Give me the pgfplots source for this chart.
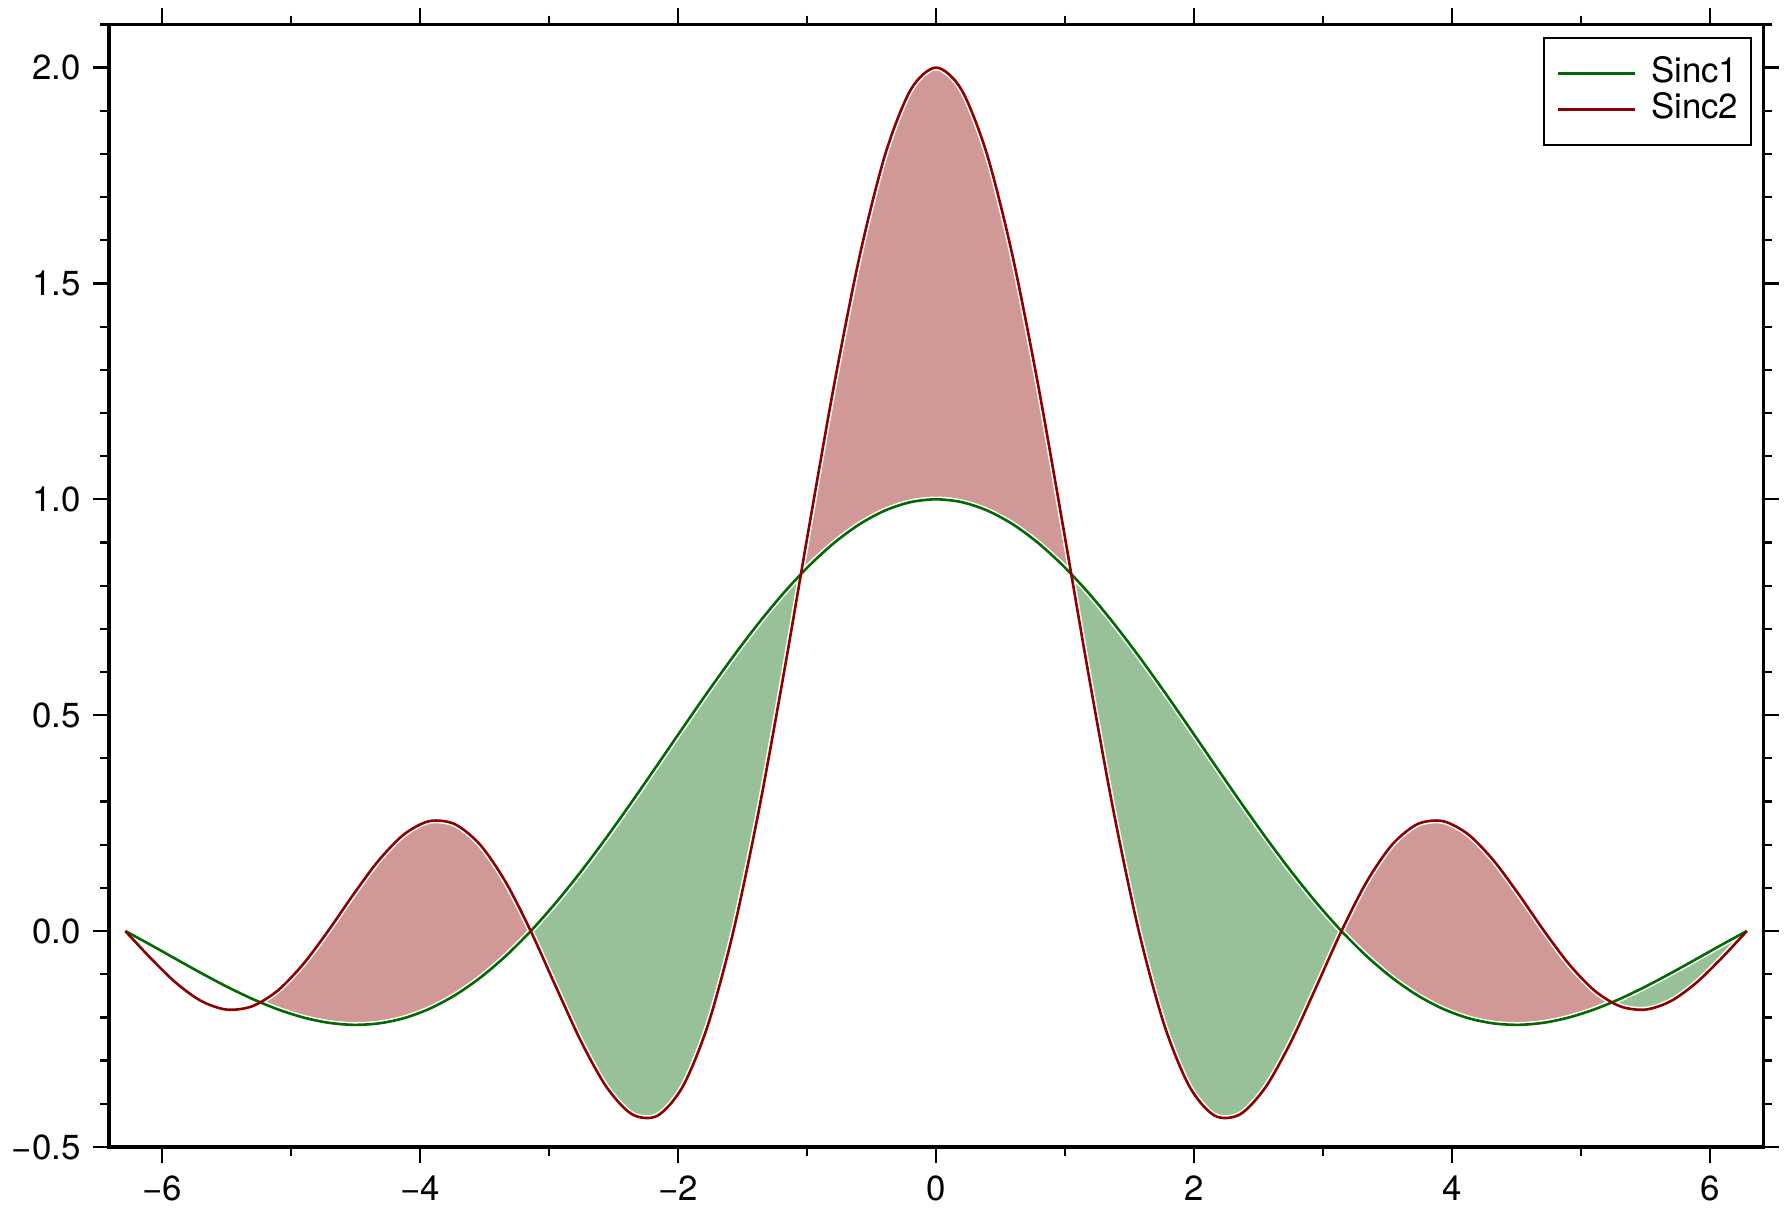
\documentclass[border=0pt]{standalone}
\usepackage{fontspec}
\setmainfont{TeX Gyre Heros}
\usepackage{pgfplots}
\pgfplotsset{compat=1.18}
\usepackage{pgfplotstable}
\usepgfplotslibrary{fillbetween}
\definecolor{lineG}{RGB}{0,105,0}
\definecolor{lineR}{RGB}{140,0,0}
\definecolor{fillG}{RGB}{153,193,153}
\definecolor{fillR}{RGB}{209,152,152}

\pgfplotstableread{
x s1 s2
-6.28319 0 0
-6.08684 -0.03205 -0.06287
-5.89049 -0.06497 -0.12004
-5.69414 -0.09757 -0.16225
-5.49779 -0.12862 -0.18189
-5.30144 -0.15684 -0.17427
-5.10509 -0.18097 -0.13851
-4.90874 -0.19980 -0.07796
-4.71239 -0.21221 0
-4.51604 -0.21718 0.08474
-4.31969 -0.21388 0.16370
-4.12334 -0.20165 0.22406
-3.92699 -0.18006 0.25465
-3.73064 -0.14892 0.24765
-3.53429 -0.10828 0.20007
-3.33794 -0.05845 0.11465
-3.14159 0 0
-2.94524 0.06624 -0.12993
-2.74889 0.13921 -0.25723
-2.55254 0.21765 -0.36194
-2.35619 0.30011 -0.42441
-2.15984 0.38497 -0.42775
-1.96350 0.47053 -0.36013
-1.76715 0.55501 -0.21655
-1.57080 0.63662 0
-1.37445 0.71359 0.27842
-1.17810 0.78421 0.60021
-0.98175 0.84693 0.94106
-0.78540 0.90032 1.27324
-0.58905 0.94317 1.56842
-0.39270 0.97450 1.80064
-0.19635 0.99359 1.94897
0 1 2
0.19635 0.99359 1.94897
0.39270 0.97450 1.80064
0.58905 0.94317 1.56842
0.78540 0.90032 1.27324
0.98175 0.84693 0.94106
1.17810 0.78421 0.60021
1.37445 0.71359 0.27842
1.57080 0.63662 0
1.76715 0.55501 -0.21655
1.96350 0.47053 -0.36013
2.15984 0.38497 -0.42775
2.35619 0.30011 -0.42441
2.55254 0.21765 -0.36194
2.74889 0.13921 -0.25723
2.94524 0.06624 -0.12993
3.14159 0 0
3.33794 -0.05845 0.11465
3.53429 -0.10828 0.20007
3.73064 -0.14892 0.24765
3.92699 -0.18006 0.25465
4.12334 -0.20165 0.22406
4.31969 -0.21388 0.16370
4.51604 -0.21718 0.08474
4.71239 -0.21221 0
4.90874 -0.19980 -0.07796
5.10509 -0.18097 -0.13851
5.30144 -0.15684 -0.17427
5.49779 -0.12862 -0.18189
5.69414 -0.09757 -0.16225
5.89049 -0.06497 -0.12004
6.08684 -0.03205 -0.06287
6.28319 0 0
}\sinc

\begin{document}
\fontsize{8.7}{10.4}\selectfont
\begin{tikzpicture}
\begin{axis}[
  scale only axis, width=413.5pt, height=280.6pt,
  xmin=-6.41, xmax=6.41, ymin=-0.5, ymax=2.1,
  axis line style={line width=0.8pt},
  tick align=outside,
  major tick length=4pt, minor tick length=2.2pt,
  tick style={black, line width=0.55pt},
  xtick={-6,-4,-2,0,2,4,6},
  xticklabels={−6,−4,−2,0,2,4,6},
  minor xtick={-5,-3,-1,1,3,5},
  ytick={-0.5,0,0.5,1,1.5,2},
  yticklabels={−0.5,0.0,0.5,1.0,1.5,2.0},
  minor ytick={-0.4,-0.3,-0.2,-0.1,0.1,0.2,0.3,0.4,0.6,0.7,0.8,0.9,1.1,1.2,1.3,1.4,1.6,1.7,1.8,1.9,2.1},
  tick label style={font=\fontsize{8.7}{10.4}\selectfont},
  legend style={at={(0.9932,0.989)}, anchor=north east, draw=black, line width=0.45pt,
    inner xsep=3.2pt, inner ysep=4.4pt, column sep=3.6pt,
    font=\fontsize{8.7}{10.4}\selectfont,
    nodes={inner xsep=0pt, inner ysep=0.3pt, text height=6.4pt, text depth=2.0pt}},
  legend cell align=left,
  legend image code/.code={\draw[#1] (0pt,0pt) -- (19.3pt,0pt);},
]
\addplot[draw=none, name path=s1, smooth, forget plot] table[x=x,y=s1] {\sinc};
\addplot[draw=none, name path=s2, smooth, forget plot] table[x=x,y=s2] {\sinc};

\addplot[fill=fillG, draw=white, line width=1.4pt, forget plot] fill between[of=s1 and s2, soft clip={domain=-6.28319:-5.23599}];
\addplot[fill=fillR, draw=white, line width=1.4pt, forget plot] fill between[of=s1 and s2, soft clip={domain=-5.23599:-3.14159}];
\addplot[fill=fillG, draw=white, line width=1.4pt, forget plot] fill between[of=s1 and s2, soft clip={domain=-3.14159:-1.04720}];
\addplot[fill=fillR, draw=white, line width=1.4pt, forget plot] fill between[of=s1 and s2, soft clip={domain=-1.04720:1.04720}];
\addplot[fill=fillG, draw=white, line width=1.4pt, forget plot] fill between[of=s1 and s2, soft clip={domain=1.04720:3.14159}];
\addplot[fill=fillR, draw=white, line width=1.4pt, forget plot] fill between[of=s1 and s2, soft clip={domain=3.14159:5.23599}];
\addplot[fill=fillG, draw=white, line width=1.4pt, forget plot] fill between[of=s1 and s2, soft clip={domain=5.23599:6.28319}];

\addplot[lineG, line width=0.65pt, smooth] table[x=x,y=s1] {\sinc};
\addlegendentry{Sinc1}
\addplot[lineR, line width=0.65pt, smooth] table[x=x,y=s2] {\sinc};
\addlegendentry{Sinc2}
\end{axis}
\pgfresetboundingbox
\path[use as bounding box] ([shift={(-27.25pt,-16.1pt)}]current axis.south west) rectangle ([shift={(6.2pt,6.1pt)}]current axis.north east);
\end{tikzpicture}
\end{document}
